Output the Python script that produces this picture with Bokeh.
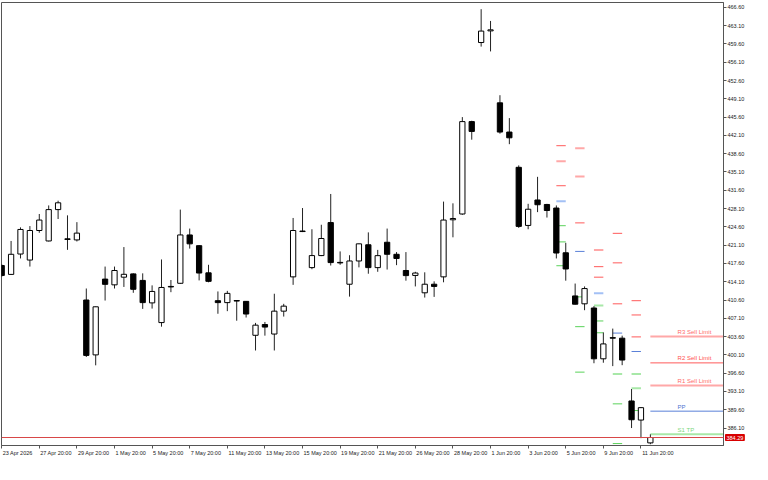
from bokeh.plotting import figure
from bokeh.models import Range1d, FixedTicker, Span, Label, LinearAxis
from bokeh.embed import file_html
from bokeh.resources import INLINE

# ---- candle data (12H bars) ----
opens = [417.2, 415.5, 419.4, 418.25, 423.9, 421.9, 427.9, 422.3, 422.1, 410.6,
         400.1, 414.6, 413.5, 414.97, 415.6, 414.35, 410.05, 406.28, 413.2, 413.8,
         423.05, 421.0, 415.8, 410.47, 410.1, 410.5, 410.34, 403.85, 405.91, 404.09,
         408.47, 415.03, 423.8, 416.8, 419.1, 425.42, 417.8, 413.62, 418.07, 421.17,
         416.8, 421.65, 419.35, 416.25, 415.3, 411.98, 413.62, 415.03, 425.95, 427.06,
         444.74, 459.87, 462.1, 448.33, 442.74, 435.99, 424.87, 429.74, 428.88, 428.2,
         419.64, 411.38, 409.87, 409.07, 399.35, 403.4, 403.3, 391.28, 387.63, 383.26]
highs = [417.5, 421.9, 424.5, 424.75, 427.06, 428.7, 429.6, 426.8, 425.5, 412.8,
         409.35, 417.0, 417.0, 420.73, 415.7, 415.7, 413.4, 418.36, 414.43, 427.9,
         424.27, 421.1, 417.34, 412.24, 412.35, 410.6, 410.4, 406.22, 406.4, 411.8,
         409.87, 426.3, 428.2, 424.14, 425.0, 430.89, 419.9, 419.17, 421.4, 423.54,
         420.19, 424.27, 419.77, 419.77, 416.0, 415.9, 414.17, 429.43, 429.1, 445.6,
         444.9, 466.25, 464.0, 449.79, 445.41, 436.36, 429.01, 434.17, 429.0, 428.7,
         421.54, 413.75, 413.2, 409.43, 404.4, 405.13, 403.78, 393.57, 390.1, 384.9]
lows = [415.0, 415.4, 418.55, 417.0, 423.47, 421.8, 426.1, 420.2, 421.8, 399.7,
        398.1, 410.5, 412.8, 413.1, 411.98, 408.9, 408.96, 405.5, 412.1, 413.7,
        420.44, 414.35, 413.99, 407.97, 408.47, 406.64, 407.25, 400.94, 403.78, 400.94,
        407.43, 413.5, 423.6, 416.49, 419.0, 417.2, 417.34, 411.25, 416.85, 415.63,
        416.0, 416.43, 417.27, 414.3, 413.2, 411.07, 411.2, 413.99, 422.6, 426.9,
        441.28, 459.09, 458.17, 442.43, 440.42, 424.4, 424.14, 427.42, 426.38, 418.55,
        414.3, 409.74, 408.65, 398.5, 398.6, 397.95, 398.13, 386.1, 384.17, 383.0]
closes = [415.3, 419.35, 424.1, 423.9, 425.9, 427.9, 429.2, 422.2, 423.4, 400.0,
          409.3, 413.6, 416.25, 415.52, 412.65, 410.1, 412.24, 413.0, 413.1, 423.05,
          421.35, 415.76, 414.17, 410.1, 411.87, 410.4, 407.92, 405.79, 405.42, 408.47,
          409.43, 423.9, 423.7, 419.1, 422.37, 417.76, 417.7, 418.07, 421.35, 416.8,
          419.09, 419.35, 418.55, 415.27, 415.76, 413.62, 413.2, 425.9, 426.2, 444.74,
          442.86, 462.06, 462.3, 442.74, 441.64, 424.69, 427.97, 428.83, 427.73, 419.59,
          416.54, 409.8, 412.79, 399.35, 402.2, 403.3, 399.11, 387.69, 390.0, 384.29]

# ---- axis ticks ----
date_tick_idx = [0, 4, 8, 12, 16, 20, 24, 28, 32, 36, 40, 44, 48, 52, 56, 60, 64, 68]
date_tick_labels = ["23 Apr 2026", "27 Apr 20:00", "29 Apr 20:00", "1 May 20:00",
                    "5 May 20:00", "7 May 20:00", "11 May 20:00", "13 May 20:00",
                    "15 May 20:00", "19 May 20:00", "21 May 20:00", "26 May 20:00",
                    "28 May 20:00", "1 Jun 20:00", "3 Jun 20:00", "5 Jun 20:00",
                    "9 Jun 20:00", "11 Jun 20:00"]
price_ticks = [466.60, 463.10, 459.60, 456.10, 452.60, 449.10, 445.60, 442.10,
               438.60, 435.10, 431.60, 428.10, 424.60, 421.10, 417.60, 414.10,
               410.60, 407.10, 403.60, 400.10, 396.60, 393.10, 389.60, 386.10]
current_price = 384.29

# ---- daily pivot levels (past days) ----
pivot_start = [59, 61, 63, 65, 67]
pivot_levels = [
    [440.13, 437.14, 432.47, 429.48, 424.82, 421.72, 417.16],
    [439.64, 434.22, 425.36, 419.90, 411.20, 405.50, 396.80],
    [420.19, 416.98, 414.97, 411.87, 409.56, 406.59, 404.33],
    [423.36, 417.71, 409.87, 404.27, 396.44, 390.73, 383.13],
    [410.47, 407.74, 403.54, 400.75, 396.44, 393.70, 389.45],
]
pivot_kinds = [
    ["red", "pink", "red", "lblue", "green", "green", "green"],
    ["pink", "pink", "red", "blue", "green", "green", "green"],
    ["pink", "red", "red", "lblue", "lgreen", "green", "green"],
    ["red", "red", "red", "blue", "lgreen", "green", "green"],
    ["red", "red", "red", "blue", "lgreen", "lgreen", "green"],
]

# ---- current day levels ----
current_start = 69
current_levels = [403.60, 398.57, 394.25, 389.33, 384.90]
current_kinds = ["pink", "red", "pink", "blue", "lgreen"]
current_names = ["R3 Sell Limit", "R2 Sell Limit", "R1 Sell Limit", "PP", "S1 TP"]

STYLE = {
    "red": ("#ff5a5a", 1),
    "pink": ("#ffa8a8", 2),
    "blue": ("#5a80d8", 1),
    "lblue": ("#a3c0f5", 2),
    "green": ("#5ad25a", 1),
    "lgreen": ("#a8e8a8", 2),
}
TEXT_COL = {"red": "#ff5050", "pink": "#ff6a6a", "blue": "#4f74d0",
            "lblue": "#7fa0e8", "green": "#49c049", "lgreen": "#7ed87e"}

X0, X1 = -0.02, 76.78
Y0, Y1 = 382.76, 467.53
W, H = 752, 464
BL, BR, BT, BB = 1, 29, 2, 13
FONT = "Liberation Sans"
FS = 5.5

p = figure(width=W, height=H, output_backend="svg", toolbar_location=None,
           x_range=Range1d(X0, X1), y_range=Range1d(Y0, Y1),
           y_axis_location="right", x_axis_location="below",
           min_border_left=BL, min_border_top=BT, min_border_right=BR,
           min_border_bottom=BB)
p.background_fill_color = "white"
p.border_fill_color = "white"
p.outline_line_color = "#555555"
p.xgrid.visible = False
p.ygrid.visible = False

# bottom axis 1: tick marks only
xa = p.xaxis[0]
xa.ticker = FixedTicker(ticks=date_tick_idx)
xa.major_label_overrides = {i: "" for i in date_tick_idx}
xa.major_label_text_font_size = "1px"
xa.minor_tick_line_color = None
xa.major_tick_in = 0
xa.major_tick_out = 3
xa.major_label_standoff = 0
xa.axis_line_color = "#555555"
xa.major_tick_line_color = "#555555"

# bottom axis 2: labels starting at each tick (left aligned look)
AW = {" ": 278, ":": 278, "A": 667, "p": 556, "r": 333, "M": 833, "a": 556,
      "y": 500, "J": 500, "u": 556, "n": 556}
def text_w(s):
    return sum(AW.get(ch, 556) for ch in s) * FS / 1000.0
px_per_unit = (W - BL - BR) / (X1 - X0)
label_pos = [i + (text_w(s) / 2 + 1.0) / px_per_unit
             for i, s in zip(date_tick_idx, date_tick_labels)]
xb = LinearAxis(ticker=FixedTicker(ticks=label_pos),
                major_label_overrides={lp: s for lp, s in zip(label_pos, date_tick_labels)})
xb.axis_line_color = None
xb.major_tick_line_color = None
xb.minor_tick_line_color = None
xb.major_tick_in = 0
xb.major_tick_out = 0
xb.major_label_standoff = 1
xb.major_label_text_font = FONT
xb.major_label_text_font_size = f"{FS}px"
xb.major_label_text_color = "#222222"
p.add_layout(xb, "below")

ya = p.yaxis[0]
ya.ticker = FixedTicker(ticks=price_ticks)
ya.major_label_overrides = {v: f"{v:.2f}" for v in price_ticks}
ya.minor_tick_line_color = None
ya.major_tick_in = 0
ya.major_tick_out = 3
ya.major_label_standoff = 1
ya.major_label_text_font = FONT
ya.major_label_text_font_size = f"{FS}px"
ya.major_label_text_color = "#222222"
ya.axis_line_color = "#555555"
ya.major_tick_line_color = "#555555"

# pivot dashes
for start, levels, kinds in zip(pivot_start, pivot_levels, pivot_kinds):
    for lv, k in zip(levels, kinds):
        col, w = STYLE[k]
        p.segment(x0=[start], y0=[lv], x1=[start + 1], y1=[lv],
                  line_color=col, line_width=w)

# current lines + labels
for lv, k, name in zip(current_levels, current_kinds, current_names):
    col, w = STYLE[k]
    p.segment(x0=[current_start], y0=[lv], x1=[X1 + 1], y1=[lv],
              line_color=col, line_width=w)
    p.add_layout(Label(x=71.9, y=lv, text=name, y_offset=1.5,
                       text_baseline="bottom", text_align="left",
                       text_font=FONT, text_font_size="6px",
                       text_color=TEXT_COL[k]))

# candles
idx = list(range(len(opens)))
p.segment(x0=idx, y0=lows, x1=idx, y1=highs, line_color="#222222", line_width=1)
tops = [max(o, c) for o, c in zip(opens, closes)]
bots = [min(o, c) for o, c in zip(opens, closes)]
fills = ["white" if c >= o else "black" for o, c in zip(opens, closes)]
p.vbar(x=idx, width=0.56, top=tops, bottom=bots, fill_color=fills,
       line_color="black", line_width=1)

# current price line and tag on the price scale
p.add_layout(Span(location=current_price, dimension="width",
                  line_color="#d84848", line_width=1))
tag = Label(x=X1, y=current_price, x_offset=2, text=f"{current_price:.2f}",
            text_baseline="middle", text_align="left",
            text_font=FONT, text_font_size=f"{FS}px", text_color="white",
            background_fill_color="#d80000", border_line_color="#d80000")
try:
    tag.padding = 1
except Exception:
    pass
p.add_layout(tag, "below")

open("out.html", "w").write(file_html(p, INLINE))
